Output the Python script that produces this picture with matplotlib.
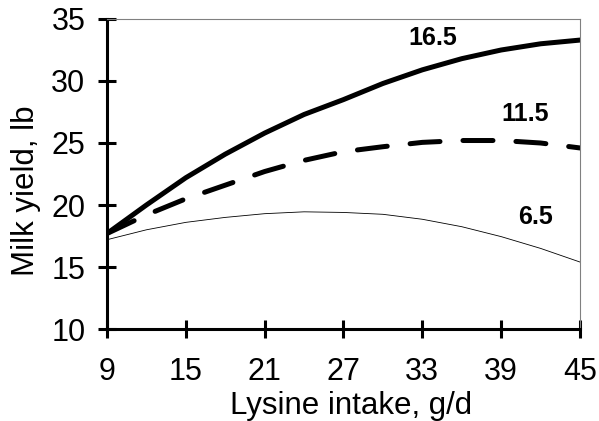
import numpy as np
import matplotlib.pyplot as plt

# Lysine intake (g/d) and predicted milk yield (lb) for three levels
lysine = [9, 12, 15, 18, 21, 24, 27, 30, 33, 36, 39, 42, 45]
milk_16_5 = [17.7, 20.0, 22.2, 24.1, 25.8, 27.3, 28.5, 29.8, 30.9, 31.8, 32.5, 33.0, 33.3]
milk_11_5 = [17.7, 19.2, 20.5, 21.6, 22.7, 23.6, 24.3, 24.7, 25.05, 25.2, 25.2, 25.0, 24.6]
milk_6_5 = [17.2, 18.0, 18.6, 19.0, 19.3, 19.45, 19.4, 19.25, 18.85, 18.25, 17.45, 16.5, 15.4]

x_ticks = [9, 15, 21, 27, 33, 39, 45]
y_ticks = [10, 15, 20, 25, 30, 35]

plt.rcParams['font.family'] = ['Liberation Sans', 'DejaVu Sans']

fig = plt.figure(figsize=(5.99, 4.21), dpi=100)
ax = fig.add_axes([0.1786, 0.2185, 0.7897, 0.7364])

ax.plot(lysine, milk_16_5, color='black', lw=3.6, solid_capstyle='round')
ax.plot(lysine, milk_11_5, color='black', lw=3.6, dashes=(6, 4.6),
        dash_capstyle='round')
ax.plot(lysine, milk_6_5, color='black', lw=0.6)

ax.text(33.8, 33.5, '16.5', fontsize=18, fontweight='bold',
        ha='center', va='center')
ax.text(40.8, 27.3, '11.5', fontsize=18, fontweight='bold',
        ha='center', va='center')
ax.text(41.6, 19.0, '6.5', fontsize=18, fontweight='bold',
        ha='center', va='center')

ax.set_xlim(9, 45)
ax.set_ylim(10, 35)
ax.set_xticks(x_ticks)
ax.set_yticks(y_ticks)

for side in ['left', 'bottom']:
    ax.spines[side].set_linewidth(2.2)
for side in ['top', 'right']:
    ax.spines[side].set_linewidth(0.8)
    ax.spines[side].set_color('#808080')

ax.tick_params(axis='both', direction='inout', length=13, width=2.2,
               labelsize=22)
ax.tick_params(axis='x', pad=14)
ax.tick_params(axis='y', pad=9)

ax.set_xlabel('Lysine intake, g/d', fontsize=22.5)
ax.set_ylabel('Milk yield, lb', fontsize=22.5)
ax.xaxis.set_label_coords(0.516, -0.2)
ax.yaxis.set_label_coords(-0.14, 0.445)

fig.savefig('out.png', dpi=100)
